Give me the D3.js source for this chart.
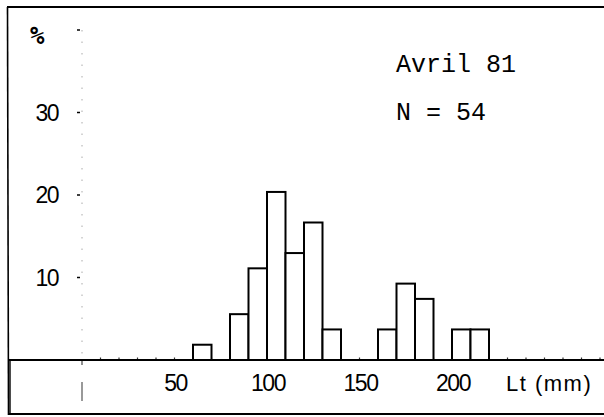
<!DOCTYPE html>
<html><head><meta charset="utf-8">
<script src="https://cdn.jsdelivr.net/npm/d3@7"></script>
<style>html,body{margin:0;padding:0;background:#fff;} svg{display:block;}</style>
</head><body>
<svg id="c" width="604" height="417"></svg>
<script>
// Data: length classes (mm, lower bin edge) and percentage of N = 54
const binStarts = [60, 80, 90, 100, 110, 120, 130, 160, 170, 180, 200, 210];
const counts    = [1, 3, 6, 11, 7, 9, 2, 2, 5, 4, 2, 2];
const totalN = 54;
const percents = counts.map(c => c / totalN * 100);
const binWidth = 10;
const xTickValues = [50, 100, 150, 200];
const yTickValues = [10, 20, 30];
const yTopTick = 40;
const title = "Avril 81";
const nLabel = "N = 54";
const xLabel = "Lt (mm)";
const yLabel = "%";

const svg = d3.select("#c");
const x = d3.scaleLinear().domain([0, 100]).range([82, 267]);
const y = d3.scaleLinear().domain([0, 10]).range([360, 277.5]);
const base = y(0);

// frame
svg.append("line").attr("x1", 7).attr("x2", 604).attr("y1", 7).attr("y2", 7)
  .attr("stroke", "#000").attr("stroke-width", 2);
svg.append("line").attr("x1", 7.5).attr("x2", 8.5).attr("y1", 7).attr("y2", 415)
  .attr("stroke", "#000").attr("stroke-width", 1.6);
svg.append("line").attr("x1", 8).attr("x2", 604).attr("y1", 414).attr("y2", 414)
  .attr("stroke", "#000").attr("stroke-width", 2.2);
svg.append("line").attr("x1", 10).attr("x2", 10).attr("y1", base).attr("y2", 414)
  .attr("stroke", "#000").attr("stroke-width", 1.4);

// y axis (faint dotted)
svg.append("line").attr("x1", x(0)).attr("x2", x(0)).attr("y1", y(yTopTick)).attr("y2", base)
  .attr("stroke", "#aaa").attr("stroke-width", 1).attr("stroke-dasharray", "1.5 10");
svg.append("line").attr("x1", x(0)).attr("x2", x(0)).attr("y1", base).attr("y2", base + 5)
  .attr("stroke", "#444").attr("stroke-width", 1.2);
svg.append("line").attr("x1", x(0)).attr("x2", x(0)).attr("y1", base + 22).attr("y2", base + 41)
  .attr("stroke", "#555").attr("stroke-width", 1.2);

// y ticks
const yAll = yTickValues.concat([yTopTick]);
svg.selectAll(".ytick").data(yAll).enter().append("line")
  .attr("x1", x(0) - 5).attr("x2", x(0) - 2)
  .attr("y1", d => y(d)).attr("y2", d => y(d))
  .attr("stroke", "#000").attr("stroke-width", 1.5);
svg.selectAll(".ylab").data(yTickValues).enter().append("text")
  .attr("x", 58).attr("y", d => y(d) + 8)
  .attr("text-anchor", "end")
  .attr("font-family", "Liberation Sans, Arial, sans-serif")
  .attr("font-size", 23).attr("letter-spacing", -1.5)
  .text(d => d);
svg.append("text").attr("x", 30).attr("y", y(yTopTick) + 14)
  .attr("font-family", "DejaVu Sans Mono, monospace").attr("font-size", 24).attr("font-weight", "bold")
  .text(yLabel);

// minor x ticks along baseline
const minor = d3.range(10, 290, 10);
svg.selectAll(".mtick").data(minor).enter().append("line")
  .attr("x1", d => x(d)).attr("x2", d => x(d))
  .attr("y1", base - 2.5).attr("y2", base)
  .attr("stroke", "#333").attr("stroke-width", 1.2);

// bars
svg.selectAll(".bar").data(binStarts).enter().append("rect")
  .attr("x", d => x(d))
  .attr("width", d => x(d + binWidth) - x(d))
  .attr("y", (d, i) => y(percents[i]))
  .attr("height", (d, i) => base - y(percents[i]))
  .attr("fill", "#fff").attr("stroke", "#000").attr("stroke-width", 2);

// baseline
svg.append("line").attr("x1", 8).attr("x2", 604).attr("y1", base).attr("y2", base)
  .attr("stroke", "#000").attr("stroke-width", 2);

// x tick labels
svg.selectAll(".xlab").data(xTickValues).enter().append("text")
  .attr("x", d => x(d) + 1).attr("y", 391)
  .attr("text-anchor", "middle")
  .attr("font-family", "Liberation Sans, Arial, sans-serif")
  .attr("font-size", 23).attr("letter-spacing", -1.5)
  .text(d => d);
svg.append("text").attr("x", 506).attr("y", 391)
  .attr("font-family", "Liberation Sans, Arial, sans-serif")
  .attr("font-size", 22).attr("letter-spacing", 1.5)
  .text(xLabel);

// annotations
svg.append("text").attr("x", 396).attr("y", 72)
  .attr("font-family", "Liberation Mono, Courier New, monospace").attr("font-size", 25)
  .text(title);
svg.append("text").attr("x", 396).attr("y", 120)
  .attr("font-family", "Liberation Mono, Courier New, monospace").attr("font-size", 25)
  .attr("xml:space", "preserve").style("white-space", "pre")
  .text(nLabel);
</script>
</body></html>
